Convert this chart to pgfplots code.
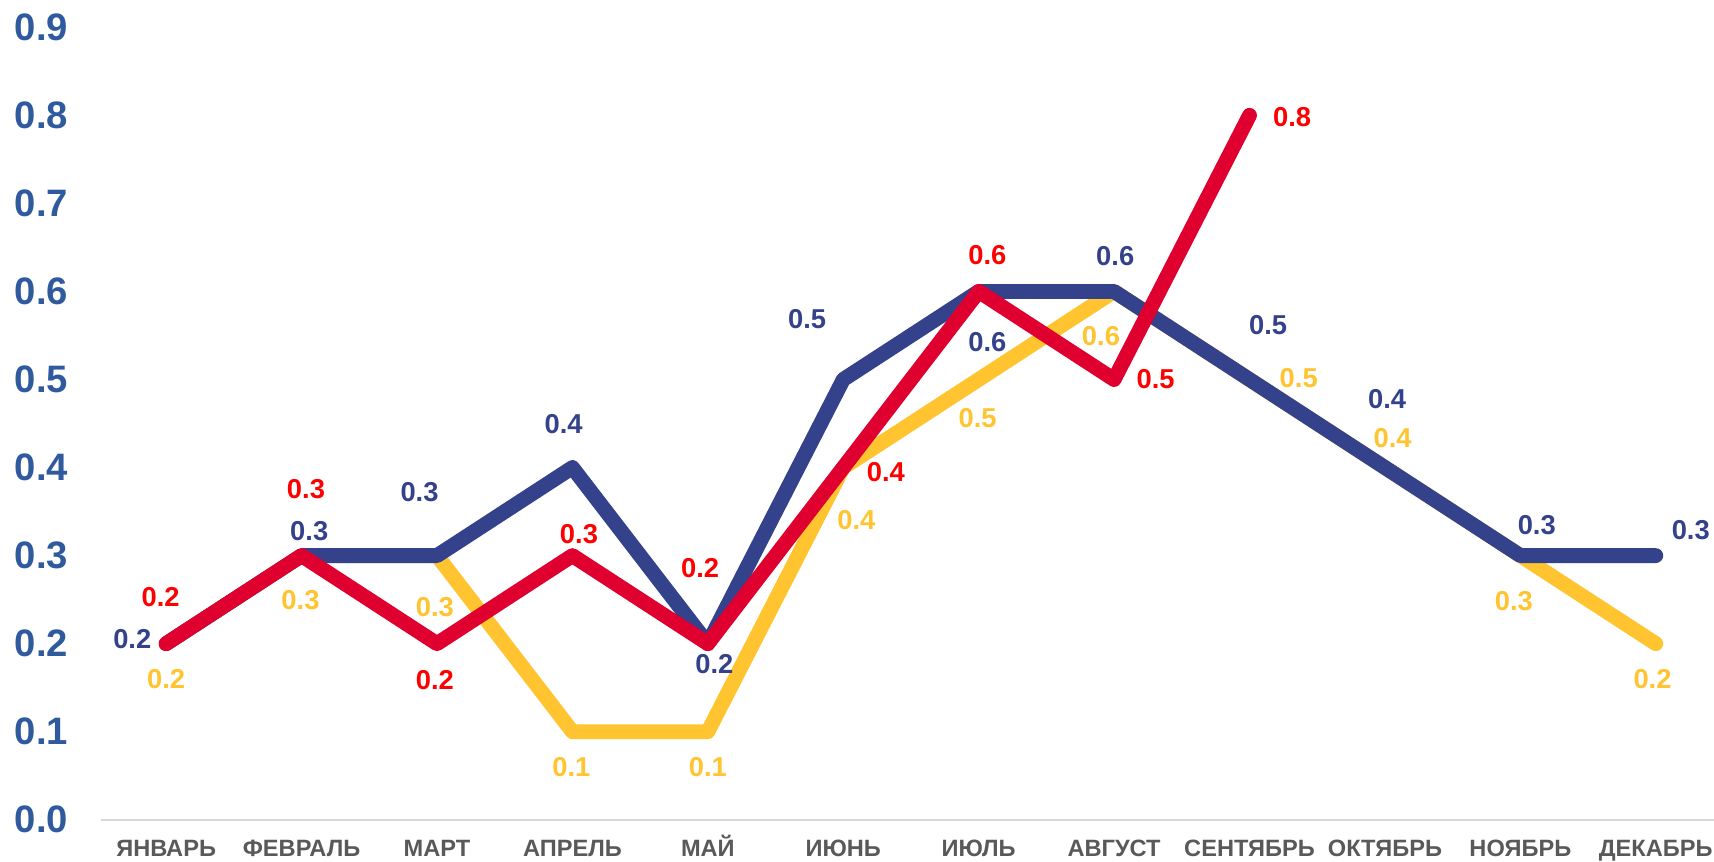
\documentclass[border=0pt]{standalone}
\usepackage{fontspec}
\setmainfont{Liberation Sans}
\usepackage{pgfplots}
\usepackage{pgfplotstable}
\pgfplotsset{compat=1.18}
\definecolor{cblue}{HTML}{33428A}
\definecolor{cyellow}{HTML}{FFC42F}
\definecolor{cred}{HTML}{E0002F}
\definecolor{lred}{HTML}{FF0000}
\definecolor{tickblue}{HTML}{2F5B9E}
\definecolor{xgray}{HTML}{595959}
\definecolor{agray}{HTML}{D9D9D9}

\pgfplotstableread{
x y lab dx dy
0 0.2 0.2 0 -16
1 0.3 0.3 -0.5 -20.5
2 0.3 0.3 -1 -23.5
3 0.1 0.1 -0.5 -16
4 0.1 0.1 0 -16
5 0.4 0.4 6 -24
6 0.5 0.5 -0.5 -17.5
7 0.6 0.6 -6 -20.5
8 0.5 0.5 22.5 0.5
9 0.4 0.4 3.5 13.5
10 0.3 0.3 -3 -21
11 0.2 0.2 -1.5 -16
}\yellowdata

\pgfplotstableread{
x y lab dx dy
0 0.2 0.2 -15.5 2
1 0.3 0.3 3.5 11
2 0.3 0.3 -8 29
3 0.4 0.4 -4 20
4 0.2 0.2 3 -9.5
5 0.5 0.5 -16.5 27.5
6 0.6 0.6 4 -23
7 0.6 0.6 0.5 16
8 0.5 0.5 8.5 25
9 0.4 0.4 1 31.5
10 0.3 0.3 7.5 14
11 0.3 0.3 16 11.5
}\bluedata

\pgfplotstableread{
x y lab dx dy
0 0.2 0.2 -2.5 21.5
1 0.3 0.3 2 30.5
2 0.2 0.2 -1 -16.5
3 0.3 0.3 3 10
4 0.2 0.2 -3.5 34.5
5 0.4 0.4 19.5 -2
6 0.6 0.6 4 16.5
7 0.5 0.5 19 0
8 0.8 0.8 19.5 -1
}\reddata

\begin{document}
\begin{tikzpicture}
\begin{axis}[
  scale only axis,
  width=738pt, height=362.5pt,
  xmin=-0.484, xmax=11.43, ymin=0, ymax=0.9,
  clip=false,
  axis line style={draw=none},
  major tick length=0pt,
  tick style={draw=none},
  xtick={0,1,2,3,4,5,6,7,8,9,10,11},
  xticklabels={ЯНВАРЬ,ФЕВРАЛЬ,МАРТ,АПРЕЛЬ,МАЙ,ИЮНЬ,ИЮЛЬ,АВГУСТ,СЕНТЯБРЬ,ОКТЯБРЬ,НОЯБРЬ,ДЕКАБРЬ},
  ytick={0,0.1,0.2,0.3,0.4,0.5,0.6,0.7,0.8,0.9},
  yticklabels={0.0,0.1,0.2,0.3,0.4,0.5,0.6,0.7,0.8,0.9},
  xticklabel style={anchor=base, yshift=-17pt, inner sep=0pt, text=xgray, font=\fontsize{10.8}{12}\selectfont\bfseries},
  yticklabel style={anchor=east, inner sep=0pt, xshift=-14.75pt, text=tickblue, font=\fontsize{17.5}{20}\selectfont\bfseries},
  every axis plot/.append style={line width=6.8pt, line cap=round, line join=round},
]
\draw[agray, line width=1pt] (axis cs:-0.484,0) -- (axis cs:11.43,0);
\addplot[cyellow, mark=none, point meta=explicit symbolic, nodes near coords,
  visualization depends on={\thisrow{dx} \as \dx},
  visualization depends on={\thisrow{dy} \as \dy},
  nodes near coords style={anchor=center, inner sep=0pt, xshift=\dx pt, yshift=\dy pt, text=cyellow, font=\fontsize{12.5}{14}\selectfont\bfseries}]
  table[x=x, y=y, meta=lab] {\yellowdata};
\addplot[cblue, mark=none, point meta=explicit symbolic, nodes near coords,
  visualization depends on={\thisrow{dx} \as \dx},
  visualization depends on={\thisrow{dy} \as \dy},
  nodes near coords style={anchor=center, inner sep=0pt, xshift=\dx pt, yshift=\dy pt, text=cblue, font=\fontsize{12.5}{14}\selectfont\bfseries}]
  table[x=x, y=y, meta=lab] {\bluedata};
\addplot[cred, mark=none, point meta=explicit symbolic, nodes near coords,
  visualization depends on={\thisrow{dx} \as \dx},
  visualization depends on={\thisrow{dy} \as \dy},
  nodes near coords style={anchor=center, inner sep=0pt, xshift=\dx pt, yshift=\dy pt, text=lred, font=\fontsize{12.5}{14}\selectfont\bfseries}]
  table[x=x, y=y, meta=lab] {\reddata};
\coordinate (BL) at (axis cs:-1.227,-0.0472);
\coordinate (TR) at (axis cs:11.43,0.931);
\end{axis}
\pgfresetboundingbox
\useasboundingbox (BL) rectangle (TR);
\end{tikzpicture}
\end{document}
